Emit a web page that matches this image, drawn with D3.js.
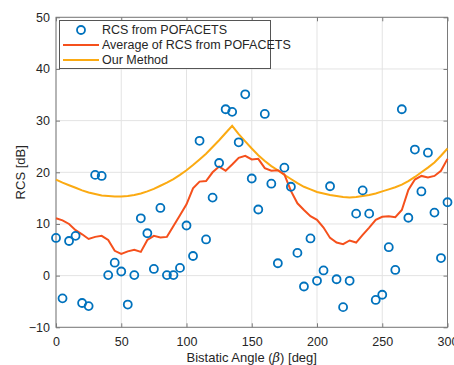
<!DOCTYPE html>
<html>
<head>
<meta charset="utf-8">
<script src="https://cdn.jsdelivr.net/npm/d3@7"></script>
<style>
  body { margin: 0; background: #fff; }
  svg text { font-family: "Liberation Sans", Arial, Helvetica, sans-serif; fill: #262626; }
</style>
</head>
<body>
<svg id="chart" width="454" height="365"></svg>
<script>
// ---- data ----
const angles = d3.range(0, 301, 5);
const rcsPoints = [
  7.3, -4.4, 6.7, 7.7, -5.3, -5.9, 19.5, 19.3, 0.1, 2.5,
  0.8, -5.6, 0.1, 11.1, 8.2, 1.3, 13.1, 0.1, 0.1, 1.5,
  9.7, 3.8, 26.1, 7.0, 15.1, 21.8, 32.2, 31.7, 25.8, 35.1,
  18.8, 12.8, 31.3, 17.8, 2.4, 20.9, 17.2, 4.4, -2.1, 7.2,
  -1.0, 1.0, 17.3, -0.7, -6.1, -1.0, 12.0, 16.5, 12.0, -4.7,
  -3.7, 5.5, 1.1, 32.2, 11.2, 24.4, 16.3, 23.8, 12.2, 3.4,
  14.2
];
const averageRcs = [
  11.1, 10.7, 10.0, 8.8, 8.0, 7.1, 7.5, 7.7, 6.9, 4.8,
  4.2, 4.7, 5.0, 4.6, 6.9, 7.7, 7.4, 7.5, 9.6, 11.7,
  13.8, 16.9, 18.2, 18.3, 20.0, 21.1, 20.3, 21.5, 22.8, 23.2,
  22.5, 22.6, 20.8, 20.3, 20.4, 19.6, 16.4, 14.0, 12.7, 11.5,
  10.8, 9.3, 7.3, 6.4, 6.1, 6.8, 6.4, 7.9, 9.3, 10.8,
  11.4, 11.5, 11.3, 12.7, 16.6, 18.6, 19.3, 19.0, 19.3, 20.3,
  22.6
];
const ourMethod = [
  18.6, 18.0, 17.5, 17.0, 16.5, 16.1, 15.8, 15.5, 15.4, 15.3,
  15.3, 15.4, 15.6, 15.9, 16.3, 16.8, 17.4, 18.0, 18.7, 19.5,
  20.4, 21.4, 22.5, 23.6, 24.9, 26.2, 27.6, 29.0, 27.4, 26.0,
  24.6, 23.3, 22.2, 21.2, 20.4, 19.5, 18.7, 17.9, 17.2, 16.7,
  16.2, 15.9, 15.6, 15.4, 15.2, 15.1, 15.2, 15.4, 15.6, 15.9,
  16.3, 16.7, 17.1, 17.6, 18.3, 19.1, 20.0, 20.9, 21.9, 23.2,
  24.6
];
const xTicks = [0, 50, 100, 150, 200, 250, 300];
const yTicks = [-10, 0, 10, 20, 30, 40, 50];
const legendLabels = ["RCS from POFACETS", "Average of RCS from POFACETS", "Our Method"];

// ---- layout ----
const L = 56, R = 447.5, T = 17.3, B = 327.3;
const blue = "#0072BD", red = "#F5501C", yellow = "#FBAA12", axisCol = "#7a7a7a";

const svg = d3.select("#chart");
const x = d3.scaleLinear().domain([0, 300]).range([L, R]);
const y = d3.scaleLinear().domain([-10, 50]).range([B, T]);

// grid
const grid = svg.append("g");
grid.selectAll(".gx").data(xTicks).join("line")
  .attr("x1", d => x(d)).attr("x2", d => x(d)).attr("y1", T).attr("y2", B)
  .attr("stroke", "#e3e3e3").attr("stroke-width", 1);
grid.selectAll(".gy").data(yTicks).join("line")
  .attr("x1", L).attr("x2", R).attr("y1", d => y(d)).attr("y2", d => y(d))
  .attr("stroke", "#e3e3e3").attr("stroke-width", 1);

// axes
function styleAxis(g, showText) {
  g.select(".domain").remove();
  g.selectAll(".tick line").attr("stroke", axisCol);
  g.selectAll(".tick text").attr("font-size", 12.5).attr("fill", "#262626")
    .style("display", showText ? null : "none");
}
svg.append("g").attr("transform", `translate(0,${B})`)
  .call(d3.axisBottom(x).tickValues(xTicks).tickSize(-4).tickPadding(10))
  .call(g => styleAxis(g, true));
svg.append("g").attr("transform", `translate(0,${T})`)
  .call(d3.axisTop(x).tickValues(xTicks).tickSize(-4))
  .call(g => styleAxis(g, false));
svg.append("g").attr("transform", `translate(${L},0)`)
  .call(d3.axisLeft(y).tickValues(yTicks).tickSize(-4).tickPadding(6))
  .call(g => styleAxis(g, true));
svg.append("g").attr("transform", `translate(${R},0)`)
  .call(d3.axisRight(y).tickValues(yTicks).tickSize(-4))
  .call(g => styleAxis(g, false));

svg.append("rect").attr("x", L).attr("y", T).attr("width", R - L).attr("height", B - T)
  .attr("fill", "none").attr("stroke", axisCol).attr("stroke-width", 1);

// lines
const line = d3.line().x((d, i) => x(angles[i])).y(d => y(d));
svg.append("path").datum(ourMethod).attr("d", line)
  .attr("fill", "none").attr("stroke", yellow).attr("stroke-width", 2);
svg.append("path").datum(averageRcs).attr("d", line)
  .attr("fill", "none").attr("stroke", red).attr("stroke-width", 2);

// points
svg.append("g").selectAll("circle").data(rcsPoints).join("circle")
  .attr("cx", (d, i) => x(angles[i])).attr("cy", d => y(d)).attr("r", 4)
  .attr("fill", "none").attr("stroke", blue).attr("stroke-width", 1.8);

// labels
svg.append("text").attr("x", (L + R) / 2).attr("y", 362).attr("text-anchor", "middle")
  .attr("font-size", 13)
  .html('Bistatic Angle (<tspan font-style="italic" font-family="DejaVu Serif">β</tspan>) [deg]');
svg.append("text").attr("transform", `translate(25,${(T + B) / 2}) rotate(-90)`)
  .attr("text-anchor", "middle").attr("font-size", 13).text("RCS [dB]");

// legend
const lg = svg.append("g");
lg.append("rect").attr("x", 59.5).attr("y", 20.5).attr("width", 211).attr("height", 48)
  .attr("fill", "#fff").attr("stroke", "#555").attr("stroke-width", 1);
const rowY = [30, 45, 60];
lg.append("circle").attr("cx", 81).attr("cy", rowY[0]).attr("r", 4)
  .attr("fill", "none").attr("stroke", blue).attr("stroke-width", 1.8);
lg.append("line").attr("x1", 63).attr("x2", 99).attr("y1", rowY[1]).attr("y2", rowY[1])
  .attr("stroke", red).attr("stroke-width", 2);
lg.append("line").attr("x1", 63).attr("x2", 99).attr("y1", rowY[2]).attr("y2", rowY[2])
  .attr("stroke", yellow).attr("stroke-width", 2);
lg.selectAll("text").data(legendLabels).join("text")
  .attr("x", 102).attr("y", (d, i) => rowY[i]).attr("dy", "0.35em")
  .attr("font-size", 12.5).attr("fill", "#262626").text(d => d);
</script>
</body>
</html>
